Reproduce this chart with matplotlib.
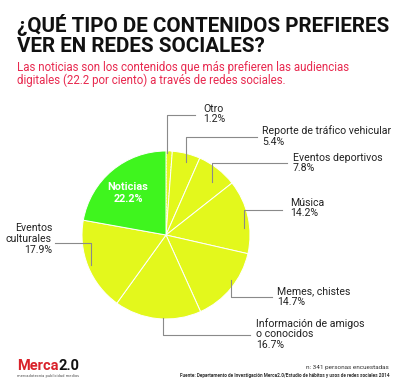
import matplotlib
matplotlib.use('Agg')
import matplotlib.pyplot as plt

# Data (clockwise from 12 o'clock)
categories = ['Otro', 'Reporte de tráfico vehicular', 'Eventos deportivos', 'Música',
              'Memes, chistes', 'Información de amigos\no conocidos', 'Eventos\nculturales',
              'Noticias']
values = [1.2, 5.4, 7.8, 14.2, 14.7, 16.7, 17.9, 22.2]
value_labels = ['1.2%', '5.4%', '7.8%', '14.2%', '14.7%', '16.7%', '17.9%', '22.2%']

YELLOW = '#E3F81C'
GREEN = '#3FF51E'
RED = '#E8294F'
LINE = '#8a8a8a'

W, H = 400, 385
fig = plt.figure(figsize=(W / 100, H / 100), dpi=100)
fig.patch.set_facecolor('white')
renderer = fig.canvas.get_renderer()


def px(x, y):
    """pixel coords (from top-left) -> figure fraction"""
    return x / W, 1 - y / H


def fit_text(x, y, s, width, size, **kw):
    """place text and shrink it until it is no wider than width px"""
    t = fig.text(*px(x, y), s, fontsize=size, **kw)
    w = t.get_window_extent(renderer).width
    if w > width:
        t.set_fontsize(size * width / w)
    return t


# Title and subtitle
title_kw = dict(fontweight='bold', family='Roboto', va='center', ha='left', color='#111111')
t1 = fit_text(17, 25, '¿QUÉ TIPO DE CONTENIDOS PREFIERES', 372, 20, **title_kw)
fig.text(*px(17, 47), 'VER EN REDES SOCIALES?', fontsize=t1.get_fontsize(), **title_kw)
s1 = fit_text(17, 67, 'Las noticias son los contenidos que más prefieren las audiencias', 336,
              9.5, color=RED, va='center', ha='left', family='Roboto')
fig.text(*px(17, 80), 'digitales (22.2 por ciento) a través de redes sociales.',
         fontsize=s1.get_fontsize(), color=RED, va='center', ha='left', family='Roboto')

# Pie
cx, cy, r = 166, 235, 84
ax = fig.add_axes([(cx - r) / W, (H - cy - r) / H, 2 * r / W, 2 * r / H])
colors = [YELLOW] * (len(values) - 1) + [GREEN]
wedges, _ = ax.pie(values, startangle=90, counterclock=False, colors=colors,
                   wedgeprops=dict(edgecolor='white', linewidth=0.7))
wedges[0].set_linestyle((0, (2, 1)))
ax.set_xlim(-1, 1)
ax.set_ylim(-1, 1)
ax.set_aspect('equal')
ax.axis('off')

# Leader lines on the figure (pixel coords)
lab_fs = 7.6
leaders = [
    # polyline points, label position, alignment
    ([(167, 153), (167, 115), (195, 115)], (203, 114), 'left'),
    ([(186, 162), (186, 137), (257, 137)], (262, 136), 'left'),
    ([(212, 182), (212, 163), (287, 163)], (293, 163), 'left'),
    ([(244, 228), (244, 210), (282, 210)], (290, 208), 'left'),
    ([(231, 280), (231, 297), (272, 297)], (277, 297), 'left'),
    ([(163, 318), (163, 335), (250, 335)], (256, 334), 'left'),
    ([(91, 265), (91, 243), (55, 243)], (52, 239), 'right'),
]
for i, (pts, (tx, ty), ha) in enumerate(leaders):
    xs = [p[0] / W for p in pts]
    ys = [1 - p[1] / H for p in pts]
    fig.add_artist(plt.Line2D(xs, ys, color=LINE, linewidth=0.8))
    fig.text(*px(tx, ty), categories[i] + '\n' + value_labels[i], fontsize=lab_fs,
             family='Roboto', color='#222222', ha=ha, va='center', linespacing=1.1,
             multialignment=ha)

# Noticias inside label
fig.text(*px(128, 193), categories[-1] + '\n' + value_labels[-1], fontsize=7.8,
         fontweight='bold', family='Roboto', color='white', ha='center', va='center',
         linespacing=1.15)

# Logo
m = fig.text(*px(17, 366), 'Merca', fontsize=10.5, fontweight='bold', family='Roboto',
             color='#D9222A', ha='left', va='center')
mx = m.get_window_extent(renderer).x1
fig.text(mx / W, 1 - 366 / H, '2.0', fontsize=10.5, fontweight='bold', family='Roboto',
         color='#111111', ha='left', va='center')
fig.text(*px(17, 376), 'mercadotecnia publicidad medios', fontsize=2.6, color='#444444',
         ha='left', va='center')

# Footer
fig.text(*px(389, 367), 'n: 341 personas encuestadas', fontsize=4.6, family='Roboto',
         color='#333333', ha='right', va='center')
fit_text(390, 375,
         'Fuente: Departamento de Investigación Merca2.0/Estudio de hábitos y usos de redes sociales 2014',
         208, 3.6, fontweight='bold', family='Roboto', color='#333333', ha='right', va='center')

fig.savefig('out.png', dpi=100, facecolor='white')
